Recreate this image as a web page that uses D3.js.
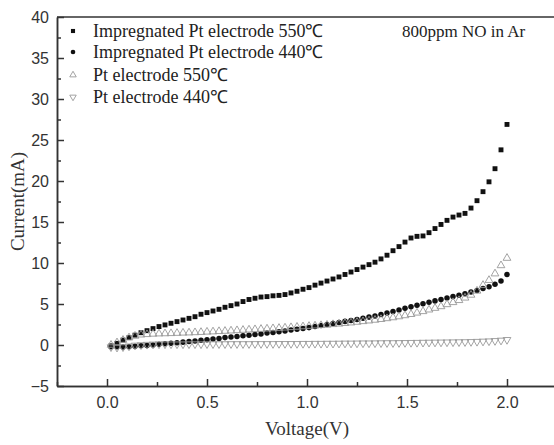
<!DOCTYPE html>
<html>
<head>
<meta charset="utf-8">
<script src="https://cdn.jsdelivr.net/npm/d3@7"></script>
<style>
body { margin: 0; background: #fff; }
</style>
</head>
<body>
<svg id="chart"></svg>
<script>
// voltage sweep (V)
const voltage = [0.02,0.05,0.08,0.11,0.14,0.17,0.20,0.23,0.26,0.29,0.32,0.35,0.38,0.41,0.44,0.47,0.50,0.53,0.56,0.59,
  0.62,0.65,0.68,0.71,0.74,0.77,0.80,0.83,0.86,0.89,0.92,0.95,0.98,1.01,1.04,1.07,1.10,1.13,1.16,1.19,
  1.22,1.25,1.28,1.31,1.34,1.37,1.40,1.43,1.46,1.49,1.52,1.55,1.58,1.61,1.64,1.67,1.70,1.73,1.76,1.79,
  1.82,1.85,1.88,1.91,1.94,1.97,2.00]

// current (mA) for each series
const impregnated550 = [-0.1,0.2,0.6,0.9,1.2,1.5,1.75,2.0,2.25,2.45,2.65,2.85,3.05,3.25,3.45,3.75,3.95,4.15,4.35,4.6,
  4.8,5.0,5.3,5.55,5.7,5.85,5.9,6.0,6.05,6.15,6.35,6.55,6.8,7.0,7.3,7.55,7.8,8.05,8.3,8.6,
  8.9,9.2,9.5,9.8,10.1,10.5,10.95,11.5,12.0,12.55,13.05,13.25,13.3,13.7,14.2,14.7,15.2,15.6,15.85,16.05,
  16.7,17.6,18.7,19.9,21.5,23.8,26.9]
const impregnated440 = [-0.2,-0.2,-0.25,-0.2,-0.15,-0.1,-0.05,0.0,0.1,0.15,0.2,0.28,0.35,0.42,0.5,0.57,0.65,0.72,0.8,0.9,
  0.98,1.05,1.12,1.2,1.28,1.35,1.45,1.53,1.62,1.72,1.82,1.92,2.02,2.12,2.25,2.38,2.5,2.62,2.75,2.88,
  3.0,3.12,3.25,3.4,3.55,3.72,3.9,4.08,4.28,4.48,4.65,4.85,5.02,5.2,5.38,5.55,5.72,5.9,6.08,6.25,
  6.45,6.65,6.88,7.1,7.4,7.8,8.6]
const pt550 = [0.0,0.3,0.6,0.9,1.1,1.25,1.3,1.35,1.38,1.4,1.42,1.45,1.48,1.5,1.53,1.56,1.6,1.63,1.67,1.7,
  1.74,1.78,1.82,1.86,1.9,1.94,1.98,2.02,2.06,2.1,2.15,2.2,2.25,2.3,2.35,2.4,2.45,2.52,2.58,2.65,
  2.72,2.8,2.88,2.96,3.05,3.14,3.24,3.35,3.47,3.6,3.75,3.92,4.1,4.3,4.5,4.7,4.95,5.2,5.45,5.75,
  6.1,6.6,7.3,7.9,8.7,9.7,10.6]
const pt440 = [-0.25,-0.3,-0.25,-0.15,-0.05,0.0,0.05,0.08,0.1,0.1,0.1,0.1,0.1,0.11,0.11,0.11,0.12,0.12,0.12,0.12,
  0.13,0.13,0.13,0.13,0.14,0.14,0.14,0.14,0.15,0.15,0.15,0.15,0.16,0.16,0.17,0.17,0.18,0.18,0.19,0.2,
  0.2,0.21,0.22,0.22,0.23,0.24,0.25,0.25,0.26,0.27,0.28,0.29,0.3,0.31,0.32,0.33,0.34,0.35,0.36,0.37,
  0.39,0.41,0.44,0.47,0.51,0.56,0.64]

const seriesNames = ['Impregnated Pt electrode 550℃', 'Impregnated Pt electrode 440℃', 'Pt electrode 550℃', 'Pt electrode 440℃']
const xTicks = [0, 0.5, 1.0, 1.5, 2.0]
const xMinor = [-0.25, 0.25, 0.75, 1.25, 1.75, 2.25]
const yTicks = [-5, 0, 5, 10, 15, 20, 25, 30, 35, 40]
const yMinor = [-2.5, 2.5, 7.5, 12.5, 17.5, 22.5, 27.5, 32.5, 37.5]

let svg = d3.select('#chart')
            .attr('width', 554)
            .attr('height', 445)

let plotLeft = 57, plotRight = 557, plotTop = 17, plotBottom = 386

let x = d3.scaleLinear().domain([-0.25, 2.25]).range([plotLeft, plotRight])
let y = d3.scaleLinear().domain([-5, 40]).range([plotBottom, plotTop])

let axisColor = '#333'

// frame top / right
svg.append('line')
    .attr('x1', plotLeft).attr('x2', plotRight)
    .attr('y1', plotTop).attr('y2', plotTop)
    .attr('stroke', axisColor).attr('stroke-width', 1.5)
svg.append('line')
    .attr('x1', plotRight).attr('x2', plotRight)
    .attr('y1', plotTop).attr('y2', plotBottom)
    .attr('stroke', axisColor).attr('stroke-width', 1.5)

let styleAxis = (g) => {
    g.selectAll('path, line').attr('stroke', axisColor).attr('stroke-width', 1.5)
    g.selectAll('text')
        .attr('fill', '#333')
        .attr('font-family', '"Liberation Sans", Arial, sans-serif')
        .attr('font-size', '16px')
}

// x axis
svg.append('g')
    .attr('transform', 'translate(0,' + plotBottom + ')')
    .call(d3.axisBottom(x).tickValues(xMinor).tickSize(-4).tickSizeOuter(0).tickFormat(''))
    .call(styleAxis)
svg.append('g')
    .attr('transform', 'translate(0,' + plotBottom + ')')
    .call(d3.axisBottom(x).tickValues(xTicks).tickSize(-7).tickSizeOuter(0).tickPadding(11).tickFormat(d3.format('.1f')))
    .call(styleAxis)

// y axis
svg.append('g')
    .attr('transform', 'translate(' + plotLeft + ',0)')
    .call(d3.axisLeft(y).tickValues(yMinor).tickSize(-4).tickSizeOuter(0).tickFormat(''))
    .call(styleAxis)
svg.append('g')
    .attr('transform', 'translate(' + plotLeft + ',0)')
    .call(d3.axisLeft(y).tickValues(yTicks).tickSize(-7).tickSizeOuter(0).tickPadding(8))
    .call(styleAxis)

// axis titles
svg.append('text')
    .attr('x', x(1.0)).attr('y', 435)
    .attr('text-anchor', 'middle')
    .attr('font-family', '"Liberation Serif", "Times New Roman", serif')
    .attr('font-size', '19px')
    .attr('fill', '#333')
    .text('Voltage(V)')
svg.append('text')
    .attr('transform', 'translate(24,' + y(17.5) + ') rotate(-90)')
    .attr('text-anchor', 'middle')
    .attr('font-family', '"Liberation Serif", "Times New Roman", serif')
    .attr('font-size', '19px')
    .attr('fill', '#333')
    .text('Current(mA)')

// marker styles
let markers = [
    {type: d3.symbolSquare, size: 24, fill: '#111', stroke: 'none', rot: 0},
    {type: d3.symbolCircle, size: 24, fill: '#111', stroke: 'none', rot: 0},
    {type: d3.symbolTriangle, size: 26, fill: 'none', stroke: '#999', rot: 0},
    {type: d3.symbolTriangle, size: 26, fill: 'none', stroke: '#999', rot: 180}
]
let allSeries = [impregnated550, impregnated440, pt550, pt440]

allSeries.forEach((values, i) => {
    let m = markers[i]
    svg.append('g')
        .selectAll('path')
        .data(values)
        .enter()
        .append('path')
        .attr('d', d3.symbol().type(m.type).size(m.size))
        .attr('transform', (d, j) => 'translate(' + x(voltage[j]) + ',' + y(d) + ') rotate(' + m.rot + ')')
        .attr('fill', m.fill)
        .attr('stroke', m.stroke)
        .attr('stroke-width', 0.9)
})

// legend
let legendY = [31, 52, 75, 97]
let legend = svg.selectAll('.legend')
    .data(seriesNames)
    .enter()
    .append('g')
    .attr('class', 'legend')
    .attr('transform', (d, i) => 'translate(73,' + legendY[i] + ')')
legend.append('path')
    .attr('d', (d, i) => d3.symbol().type(markers[i].type).size(markers[i].size * 0.7)())
    .attr('transform', (d, i) => 'rotate(' + markers[i].rot + ')')
    .attr('fill', (d, i) => markers[i].fill)
    .attr('stroke', (d, i) => markers[i].stroke)
    .attr('stroke-width', 0.9)
legend.append('text')
    .attr('x', 20)
    .attr('dy', '0.33em')
    .attr('font-family', '"Liberation Serif", "Times New Roman", serif')
    .attr('font-size', '18px')
    .attr('fill', '#222')
    .text((d) => d)

svg.append('text')
    .attr('x', 402).attr('y', 31)
    .attr('dy', '0.33em')
    .attr('font-family', '"Liberation Serif", "Times New Roman", serif')
    .attr('font-size', '17px')
    .attr('fill', '#222')
    .text('800ppm NO in Ar')
</script>
</body>
</html>
